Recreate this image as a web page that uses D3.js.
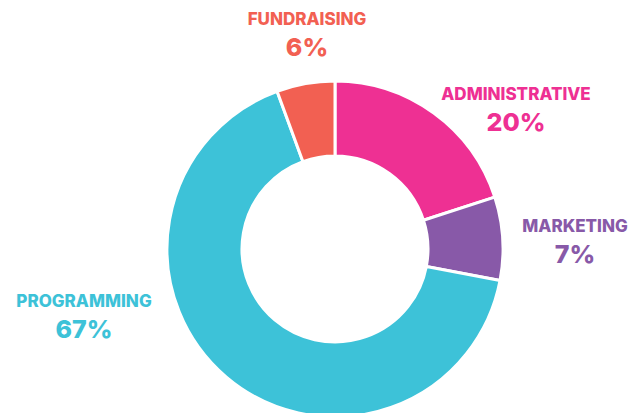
<!DOCTYPE html>
<html>
<head>
<meta charset="utf-8">
<script src="https://cdn.jsdelivr.net/npm/d3@7"></script>
<style>
  html, body { margin: 0; padding: 0; background: #fff; }
  svg { display: block; }
</style>
</head>
<body>
<svg id="chart"></svg>
<script>
// data (slice angles), labels as printed
const categories = ["ADMINISTRATIVE", "MARKETING", "PROGRAMMING", "FUNDRAISING"];
const values = [20, 8, 66.4, 5.6];
const percentLabels = ["20%", "7%", "67%", "6%"];
const colors = ["#ee3093", "#8859a8", "#3dc2d8", "#f26052"];

const width = 634;
const height = 413;
const cx = 335, cy = 249;
const outerR = 168, innerR = 93;

// where each label block sits (centre x, baseline of name line)
const labelPos = {
  ADMINISTRATIVE: [516, 100],
  MARKETING: [575, 232],
  PROGRAMMING: [84, 307],
  FUNDRAISING: [307, 25],
};

const svg = d3.select("#chart").attr("width", width).attr("height", height);

const data = categories.map((c, i) => ({ name: c, value: values[i], pct: percentLabels[i], color: colors[i] }));

const pie = d3.pie().value((d) => d.value).sort(null);
const arc = d3.arc().innerRadius(innerR).outerRadius(outerR);

const g = svg.append("g").attr("transform", `translate(${cx},${cy})`);

g.selectAll("path")
  .data(pie(data))
  .enter()
  .append("path")
  .attr("d", arc)
  .attr("fill", (d) => d.data.color)
  .attr("stroke", "#fff")
  .attr("stroke-width", 3)
  .attr("stroke-linejoin", "miter");

const labels = svg.selectAll(".label")
  .data(data)
  .enter()
  .append("g")
  .attr("class", "label")
  .attr("transform", (d) => `translate(${labelPos[d.name][0]},${labelPos[d.name][1]})`)
  .attr("fill", (d) => d.color)
  .attr("text-anchor", "middle")
  .style("font-family", "Inter, 'Open Sans', sans-serif");

labels.append("text")
  .style("font-size", "17px")
  .style("font-weight", 800)
  .text((d) => d.name);

labels.append("text")
  .attr("y", 31)
  .style("font-size", "25px")
  .style("font-weight", 800)
  .text((d) => d.pct);
</script>
</body>
</html>
